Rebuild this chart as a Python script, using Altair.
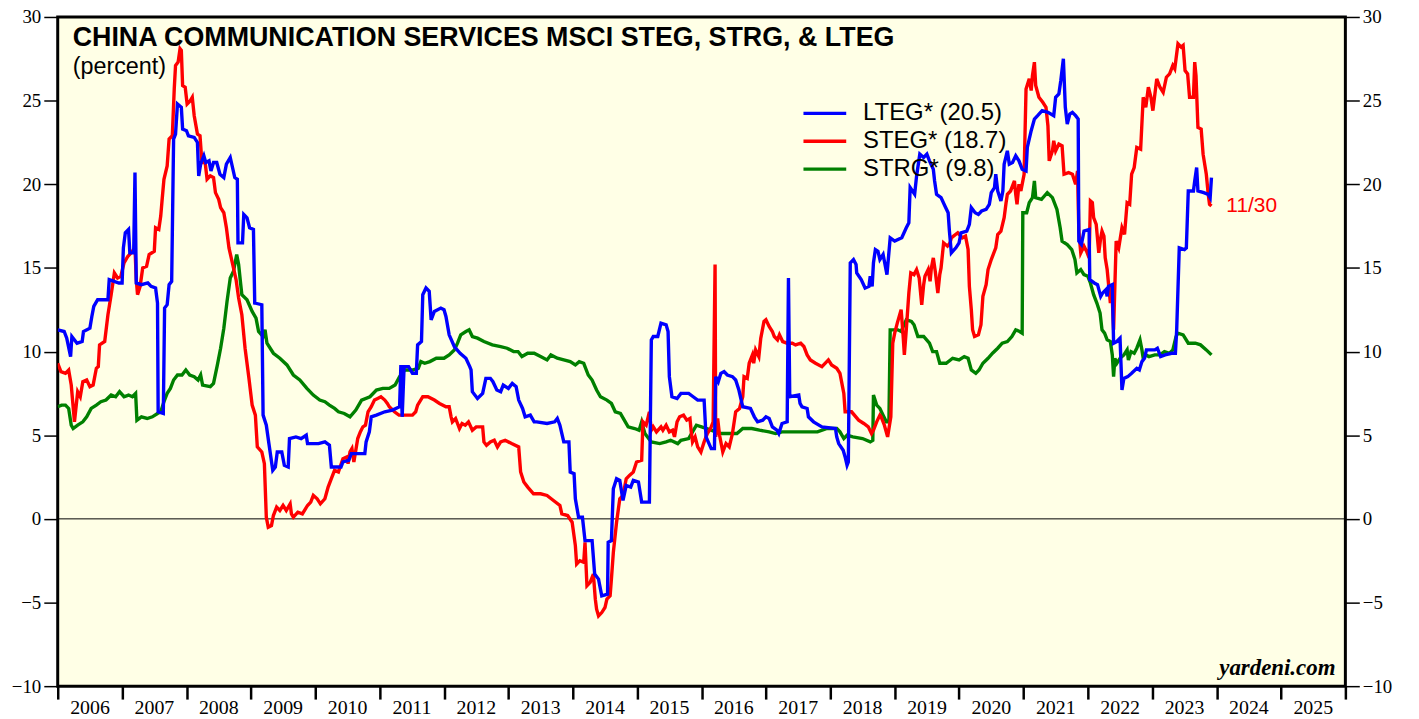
import altair as alt
import pandas as pd

# ---------------- data (fractional year, percent) ----------------
lteg_t = [2006.00, 2006.10, 2006.14, 2006.20, 2006.22, 2006.30, 2006.38, 2006.40, 2006.50, 2006.53,
          2006.56, 2006.62, 2006.78, 2006.80, 2006.95, 2007.00, 2007.02, 2007.05, 2007.10, 2007.12,
          2007.18, 2007.20, 2007.22, 2007.30, 2007.40, 2007.45, 2007.52, 2007.55, 2007.56, 2007.64,
          2007.66, 2007.70, 2007.73, 2007.77, 2007.80, 2007.83, 2007.86, 2007.92, 2007.94, 2008.00,
          2008.03, 2008.12, 2008.17, 2008.19, 2008.22, 2008.27, 2008.30, 2008.35, 2008.38, 2008.42,
          2008.47, 2008.52, 2008.58, 2008.62, 2008.68, 2008.75, 2008.79, 2008.80, 2008.87, 2008.89,
          2008.94, 2008.98, 2009.04, 2009.06, 2009.17, 2009.19, 2009.24, 2009.28, 2009.34, 2009.38,
          2009.41, 2009.48, 2009.52, 2009.58, 2009.60, 2009.70, 2009.78, 2009.86, 2009.88, 2010.05,
          2010.15, 2010.22, 2010.25, 2010.40, 2010.43, 2010.52, 2010.56, 2010.77, 2010.79, 2010.84,
          2010.87, 2010.95, 2011.08, 2011.20, 2011.31, 2011.33, 2011.35, 2011.38, 2011.45, 2011.51,
          2011.57, 2011.59, 2011.65, 2011.67, 2011.72, 2011.77, 2011.80, 2011.85, 2011.95, 2012.00,
          2012.03, 2012.08, 2012.16, 2012.25, 2012.34, 2012.40, 2012.42, 2012.44, 2012.52, 2012.60,
          2012.65, 2012.72, 2012.76, 2012.82, 2012.88, 2012.92, 2013.00, 2013.06, 2013.12, 2013.16,
          2013.22, 2013.26, 2013.34, 2013.40, 2013.44, 2013.60, 2013.72, 2013.76, 2013.80, 2013.86,
          2013.94, 2013.96, 2014.02, 2014.04, 2014.09, 2014.15, 2014.19, 2014.30, 2014.34, 2014.40,
          2014.45, 2014.54, 2014.55, 2014.60, 2014.63, 2014.68, 2014.73, 2014.78, 2014.83, 2014.90,
          2014.94, 2015.02, 2015.07, 2015.19, 2015.22, 2015.25, 2015.32, 2015.37, 2015.45, 2015.48,
          2015.50, 2015.54, 2015.62, 2015.68, 2015.80, 2015.87, 2015.94, 2016.04, 2016.07, 2016.15,
          2016.20, 2016.22, 2016.26, 2016.30, 2016.35, 2016.40, 2016.48, 2016.53, 2016.58, 2016.64,
          2016.76, 2016.82, 2016.87, 2016.95, 2017.00, 2017.05, 2017.10, 2017.17, 2017.20, 2017.25,
          2017.33, 2017.35, 2017.37, 2017.51, 2017.53, 2017.56, 2017.64, 2017.66, 2017.74, 2017.87,
          2018.08, 2018.10, 2018.13, 2018.20, 2018.23, 2018.26, 2018.28, 2018.31, 2018.36, 2018.40,
          2018.41, 2018.48, 2018.54, 2018.60, 2018.62, 2018.65, 2018.67, 2018.70, 2018.74, 2018.77,
          2018.82, 2018.88, 2018.93, 2019.00, 2019.11, 2019.18, 2019.22, 2019.24, 2019.31, 2019.34,
          2019.39, 2019.45, 2019.50, 2019.54, 2019.60, 2019.62, 2019.65, 2019.72, 2019.78, 2019.83,
          2019.85, 2019.88, 2019.95, 2020.00, 2020.03, 2020.12, 2020.16, 2020.19, 2020.25, 2020.30,
          2020.35, 2020.42, 2020.47, 2020.50, 2020.55, 2020.57, 2020.60, 2020.65, 2020.68, 2020.70,
          2020.75, 2020.78, 2020.83, 2020.88, 2020.93, 2020.98, 2021.04, 2021.06, 2021.12, 2021.17,
          2021.22, 2021.29, 2021.38, 2021.47, 2021.50, 2021.55, 2021.58, 2021.62, 2021.65, 2021.68,
          2021.72, 2021.76, 2021.81, 2021.85, 2021.86, 2021.90, 2021.94, 2022.02, 2022.03, 2022.10,
          2022.15, 2022.20, 2022.23, 2022.28, 2022.30, 2022.32, 2022.38, 2022.40, 2022.45, 2022.50,
          2022.53, 2022.56, 2022.62, 2022.68, 2022.76, 2022.80, 2022.84, 2022.88, 2022.91, 2023.04,
          2023.08, 2023.13, 2023.20, 2023.30, 2023.36, 2023.38, 2023.42, 2023.50, 2023.53, 2023.56,
          2023.64, 2023.66, 2023.69, 2023.71, 2023.80, 2023.87, 2023.90, 2023.92]
lteg_v = [11.3, 11.2, 10.8, 9.7, 10.9, 10.5, 10.6, 11.2, 11.4, 12.1,
          12.7, 13.1, 13.1, 14.3, 14.1, 14.1, 16.2, 17.1, 17.3, 15.9,
          15.9, 20.7, 14.1, 14.0, 14.1, 13.9, 13.8, 12.9, 6.4, 6.3,
          12.6, 12.8, 14.0, 14.2, 22.7, 23.0, 24.8, 24.6, 23.3, 23.2,
          22.9, 22.8, 22.5, 20.5, 21.2, 21.7, 21.3, 21.4, 20.8, 21.3,
          21.3, 20.6, 20.4, 21.2, 21.6, 20.4, 20.3, 16.5, 16.5, 18.2,
          18.0, 17.4, 17.3, 12.9, 12.8, 6.2, 5.6, 4.5, 2.9, 3.1,
          4.0, 4.0, 3.2, 3.1, 4.8, 4.9, 4.8, 5.0, 4.5, 4.5,
          4.6, 4.4, 3.1, 3.1, 3.4, 3.5, 3.9, 3.9, 4.6, 5.2,
          6.1, 6.2, 6.4, 6.5, 6.7, 9.2, 6.1, 9.1, 9.1, 8.7,
          8.7, 10.4, 10.6, 13.4, 13.8, 13.6, 11.9, 12.4, 12.6, 12.5,
          12.1, 11.0, 10.3, 9.9, 9.6, 9.1, 8.9, 7.6, 7.2, 7.5,
          8.4, 8.4, 8.2, 7.7, 7.6, 8.0, 7.8, 8.1, 7.9, 7.1,
          6.6, 6.1, 6.2, 5.8, 5.8, 5.7, 5.8, 6.0, 5.6, 4.6,
          4.6, 2.8, 2.7, 1.2, 0.1, 0.1, -1.3, -1.3, -3.3, -3.6,
          -4.6, -4.5, -1.4, -1.3, 1.8, 2.4, 2.3, 1.1, 2.0, 1.9,
          2.3, 2.2, 1.0, 1.0, 10.7, 10.9, 10.9, 11.7, 11.6, 11.2,
          8.5, 7.3, 7.2, 7.5, 7.5, 7.3, 7.1, 7.1, 4.9, 4.2,
          4.2, 8.5, 8.2, 8.7, 8.8, 8.6, 8.5, 8.3, 7.7, 6.7,
          6.6, 6.1, 5.8, 5.9, 6.1, 6.0, 5.5, 5.3, 5.1, 5.7,
          5.8, 14.4, 7.3, 7.4, 6.9, 6.7, 6.6, 6.1, 5.8, 5.5,
          5.4, 4.9, 4.5, 4.1, 3.7, 3.2, 3.4, 15.3, 15.5, 15.2,
          14.7, 14.3, 13.8, 13.9, 14.5, 13.9, 15.3, 16.1, 16.0, 15.5,
          15.8, 14.6, 16.8, 16.6, 16.8, 17.4, 17.7, 19.8, 19.4, 20.5,
          21.8, 21.6, 21.8, 21.4, 20.9, 20.2, 19.4, 19.2, 18.7, 18.3,
          17.2, 15.9, 16.2, 16.5, 17.1, 17.2, 17.6, 18.6, 18.3, 18.2,
          18.4, 18.5, 18.8, 19.5, 19.8, 20.6, 19.6, 19.0, 19.6, 21.2,
          22.0, 21.2, 21.3, 21.7, 21.4, 20.9, 20.8, 22.2, 23.2, 23.9,
          24.1, 24.4, 24.3, 24.1, 25.2, 25.4, 26.2, 27.5, 24.6, 23.6,
          24.2, 24.3, 24.1, 23.9, 16.6, 16.4, 17.2, 17.3, 14.3, 14.1,
          14.0, 13.3, 13.5, 13.7, 13.3, 13.9, 14.0, 10.5, 10.6, 10.8,
          7.7, 8.4, 8.5, 8.7, 9.0, 8.9, 9.4, 9.6, 10.1, 10.1,
          10.2, 9.7, 9.8, 9.9, 9.9, 11.3, 16.2, 16.1, 16.2, 19.6,
          19.6, 20.2, 21.0, 19.6, 19.5, 19.4, 19.2, 20.4]

steg_t = [2006.00, 2006.05, 2006.12, 2006.17, 2006.21, 2006.26, 2006.31, 2006.35, 2006.39, 2006.45,
          2006.50, 2006.55, 2006.60, 2006.63, 2006.65, 2006.73, 2006.78, 2006.83, 2006.88, 2006.93,
          2006.98, 2007.03, 2007.09, 2007.14, 2007.20, 2007.22, 2007.24, 2007.28, 2007.32, 2007.38,
          2007.42, 2007.50, 2007.52, 2007.57, 2007.60, 2007.62, 2007.65, 2007.70, 2007.73, 2007.78,
          2007.81, 2007.83, 2007.87, 2007.90, 2007.92, 2007.94, 2007.98, 2008.01, 2008.06, 2008.09,
          2008.12, 2008.17, 2008.21, 2008.24, 2008.29, 2008.32, 2008.37, 2008.42, 2008.45, 2008.50,
          2008.53, 2008.58, 2008.62, 2008.66, 2008.73, 2008.77, 2008.81, 2008.86, 2008.91, 2008.97,
          2009.02, 2009.07, 2009.10, 2009.17, 2009.21, 2009.24, 2009.27, 2009.32, 2009.35, 2009.40,
          2009.45, 2009.50, 2009.55, 2009.61, 2009.63, 2009.66, 2009.73, 2009.80, 2009.88, 2009.93,
          2009.97, 2010.03, 2010.08, 2010.15, 2010.20, 2010.25, 2010.30, 2010.36, 2010.43, 2010.49,
          2010.51, 2010.54, 2010.57, 2010.60, 2010.66, 2010.70, 2010.74, 2010.78, 2010.82, 2010.87,
          2010.92, 2010.97, 2011.02, 2011.08, 2011.12, 2011.15, 2011.23, 2011.30, 2011.45, 2011.51,
          2011.56, 2011.59, 2011.67, 2011.75, 2011.85, 2011.93, 2012.03, 2012.08, 2012.11, 2012.13,
          2012.18, 2012.24, 2012.28, 2012.33, 2012.38, 2012.44, 2012.50, 2012.60, 2012.62, 2012.66,
          2012.72, 2012.78, 2012.83, 2012.88, 2012.95, 2013.05, 2013.16, 2013.19, 2013.24, 2013.30,
          2013.39, 2013.50, 2013.60, 2013.70, 2013.80, 2013.83, 2013.92, 2013.99, 2014.04, 2014.06,
          2014.11, 2014.17, 2014.19, 2014.22, 2014.27, 2014.32, 2014.35, 2014.37, 2014.40, 2014.45,
          2014.50, 2014.53, 2014.58, 2014.60, 2014.63, 2014.68, 2014.73, 2014.78, 2014.83, 2014.88,
          2014.94, 2014.99, 2015.07, 2015.09, 2015.14, 2015.19, 2015.22, 2015.25, 2015.30, 2015.37,
          2015.40, 2015.45, 2015.50, 2015.55, 2015.58, 2015.62, 2015.66, 2015.72, 2015.77, 2015.82,
          2015.84, 2015.86, 2015.90, 2015.94, 2015.99, 2016.04, 2016.09, 2016.14, 2016.18, 2016.21,
          2016.22, 2016.25, 2016.28, 2016.33, 2016.38, 2016.43, 2016.48, 2016.53, 2016.59, 2016.64,
          2016.66, 2016.71, 2016.74, 2016.79, 2016.81, 2016.84, 2016.89, 2016.92, 2016.97, 2017.00,
          2017.05, 2017.10, 2017.13, 2017.18, 2017.21, 2017.26, 2017.33, 2017.41, 2017.46, 2017.54,
          2017.59, 2017.64, 2017.69, 2017.77, 2017.87, 2017.97, 2018.02, 2018.10, 2018.15, 2018.21,
          2018.23, 2018.33, 2018.44, 2018.52, 2018.59, 2018.64, 2018.67, 2018.72, 2018.77, 2018.79,
          2018.84, 2018.89, 2018.94, 2018.97, 2019.00, 2019.04, 2019.10, 2019.13, 2019.15, 2019.18,
          2019.22, 2019.25, 2019.30, 2019.34, 2019.38, 2019.42, 2019.45, 2019.47, 2019.52, 2019.55,
          2019.57, 2019.60, 2019.63, 2019.67, 2019.70, 2019.72, 2019.76, 2019.82, 2019.86, 2019.88,
          2019.98, 2020.05, 2020.10, 2020.14, 2020.16, 2020.19, 2020.21, 2020.24, 2020.30, 2020.34,
          2020.37, 2020.42, 2020.45, 2020.50, 2020.57, 2020.60, 2020.65, 2020.70, 2020.73, 2020.75,
          2020.80, 2020.86, 2020.88, 2020.90, 2020.93, 2020.96, 2021.01, 2021.04, 2021.09, 2021.12,
          2021.14, 2021.17, 2021.19, 2021.24, 2021.30, 2021.35, 2021.38, 2021.40, 2021.45, 2021.47,
          2021.50, 2021.55, 2021.60, 2021.63, 2021.70, 2021.76, 2021.81, 2021.84, 2021.86, 2021.89,
          2021.94, 2021.98, 2022.02, 2022.04, 2022.07, 2022.09, 2022.13, 2022.17, 2022.20, 2022.22,
          2022.25, 2022.27, 2022.30, 2022.32, 2022.35, 2022.37, 2022.40, 2022.44, 2022.48, 2022.53,
          2022.57, 2022.61, 2022.65, 2022.68, 2022.72, 2022.76, 2022.82, 2022.86, 2022.90, 2022.94,
          2022.98, 2023.01, 2023.07, 2023.12, 2023.17, 2023.22, 2023.27, 2023.32, 2023.35, 2023.37,
          2023.40, 2023.45, 2023.48, 2023.51, 2023.55, 2023.58, 2023.64, 2023.66, 2023.68, 2023.71,
          2023.76, 2023.79, 2023.84, 2023.87, 2023.89, 2023.92]
steg_v = [9.3, 8.8, 8.7, 8.9, 8.0, 5.8, 7.6, 7.3, 8.2, 8.3,
          7.9, 8.0, 9.0, 9.1, 10.4, 10.6, 12.2, 13.4, 14.7, 14.4,
          14.5, 15.3, 15.7, 15.9, 16.2, 14.3, 13.4, 13.9, 15.0, 15.1,
          15.8, 16.0, 17.4, 17.3, 18.1, 19.0, 20.3, 21.1, 22.7, 22.9,
          25.7, 27.1, 27.3, 28.1, 28.0, 25.9, 25.8, 24.8, 25.0, 25.2,
          24.1, 23.0, 22.9, 21.3, 21.3, 20.3, 20.5, 20.4, 19.5, 19.1,
          18.6, 18.3, 17.4, 16.2, 15.0, 14.3, 13.2, 12.2, 10.2, 8.4,
          6.8, 6.2, 4.3, 4.0, 3.3, 0.1, -0.5, -0.4, 0.2, 0.7,
          0.5, 0.8, 0.5, 0.9, 0.3, 0.1, 0.4, 0.3, 0.8, 1.0,
          1.4, 1.2, 0.9, 1.2, 1.9, 2.4, 2.9, 2.8, 3.6, 3.7,
          3.3, 4.0, 4.2, 3.4, 4.8, 5.2, 5.5, 5.6, 6.4, 6.7,
          7.1, 7.2, 7.3, 7.1, 6.9, 6.7, 6.4, 6.2, 6.2, 6.2,
          6.4, 6.8, 7.3, 7.3, 7.1, 6.9, 6.7, 6.7, 6.1, 5.8,
          6.0, 5.4, 5.7, 5.6, 5.8, 5.3, 5.5, 5.5, 4.6, 4.4,
          4.6, 4.7, 4.3, 4.6, 4.7, 4.5, 4.3, 2.8, 2.2, 1.9,
          1.5, 1.5, 1.4, 1.1, 0.8, 0.3, 0.2, -0.2, -1.6, -2.7,
          -2.5, -2.6, -1.4, -4.0, -3.8, -3.3, -4.8, -5.4, -5.8, -5.6,
          -5.3, -4.8, -4.6, -3.6, -2.0, -0.2, 1.2, 1.4, 2.4, 2.6,
          2.8, 3.4, 3.5, 5.8, 5.6, 6.4, 5.3, 5.5, 5.2, 5.5,
          5.3, 5.6, 5.2, 5.3, 4.9, 5.8, 6.1, 6.2, 5.9, 6.0,
          5.2, 4.6, 4.9, 4.3, 4.0, 4.6, 5.1, 5.4, 5.8, 15.2,
          4.9, 6.0, 5.0, 4.0, 4.5, 4.3, 5.1, 6.4, 6.6, 7.3,
          8.5, 8.4, 9.3, 9.8, 9.3, 10.1, 9.7, 10.8, 11.8, 11.9,
          11.5, 11.2, 10.9, 10.7, 11.0, 10.6, 10.5, 10.5, 10.4, 10.5,
          10.3, 9.8, 9.5, 9.3, 9.1, 9.5, 9.2, 9.0, 8.7, 7.5,
          6.4, 6.4, 5.9, 5.7, 5.5, 5.1, 5.3, 5.8, 6.2, 6.1,
          5.6, 4.9, 6.1, 10.5, 11.1, 11.7, 12.5, 11.0, 9.8, 11.3,
          13.5, 14.7, 14.6, 14.9, 14.4, 12.8, 14.0, 14.5, 14.9, 14.2,
          15.0, 15.6, 14.8, 13.5, 14.6, 15.0, 16.5, 16.3, 16.5, 16.8,
          17.1, 16.8, 16.9, 16.1, 13.9, 12.5, 11.3, 10.9, 11.0, 11.6,
          13.3, 14.0, 14.9, 15.5, 16.2, 17.0, 17.2, 18.0, 18.9, 19.4,
          19.6, 20.2, 19.4, 18.8, 20.0, 19.6, 20.6, 25.7, 26.3, 25.6,
          26.5, 27.3, 25.9, 25.2, 24.9, 24.6, 23.5, 21.4, 22.0, 22.6,
          22.0, 22.4, 22.3, 20.6, 20.7, 20.6, 20.0, 20.8, 17.2, 15.9,
          16.3, 16.0, 15.6, 19.0, 18.9, 18.0, 17.6, 15.9, 16.8, 17.2,
          16.9, 15.6, 14.9, 14.1, 12.9, 14.0, 11.3, 16.6, 16.2, 17.4,
          17.0, 18.9, 18.8, 20.6, 21.0, 22.2, 22.1, 25.2, 24.6, 25.8,
          25.2, 24.4, 26.3, 25.8, 25.5, 26.4, 26.6, 27.1, 26.9, 27.5,
          28.4, 28.2, 28.3, 26.8, 26.6, 25.2, 25.2, 27.3, 26.5, 23.4,
          23.3, 21.8, 20.6, 19.4, 18.8, 18.7]

strg_t = [2006.00, 2006.06, 2006.12, 2006.17, 2006.21, 2006.24, 2006.31, 2006.39, 2006.45, 2006.52,
          2006.60, 2006.67, 2006.75, 2006.83, 2006.90, 2006.96, 2007.03, 2007.10, 2007.16, 2007.21,
          2007.23, 2007.30, 2007.39, 2007.47, 2007.55, 2007.60, 2007.65, 2007.70, 2007.75, 2007.80,
          2007.86, 2007.93, 2007.99, 2008.05, 2008.12, 2008.18, 2008.22, 2008.25, 2008.37, 2008.42,
          2008.48, 2008.53, 2008.58, 2008.63, 2008.68, 2008.73, 2008.78, 2008.81, 2008.84, 2008.86,
          2008.94, 2009.02, 2009.08, 2009.12, 2009.19, 2009.22, 2009.25, 2009.35, 2009.45, 2009.56,
          2009.66, 2009.76, 2009.87, 2009.97, 2010.07, 2010.15, 2010.22, 2010.30, 2010.36, 2010.45,
          2010.54, 2010.63, 2010.72, 2010.85, 2010.95, 2011.05, 2011.15, 2011.24, 2011.31, 2011.39,
          2011.52, 2011.60, 2011.64, 2011.70, 2011.78, 2011.88, 2012.00, 2012.08, 2012.16, 2012.21,
          2012.26, 2012.34, 2012.39, 2012.44, 2012.52, 2012.62, 2012.75, 2012.88, 2012.98, 2013.08,
          2013.15, 2013.21, 2013.30, 2013.40, 2013.50, 2013.60, 2013.66, 2013.76, 2013.86, 2013.96,
          2014.04, 2014.10, 2014.17, 2014.24, 2014.30, 2014.37, 2014.43, 2014.53, 2014.60, 2014.66,
          2014.74, 2014.80, 2014.86, 2014.96, 2015.03, 2015.07, 2015.12, 2015.22, 2015.35, 2015.45,
          2015.52, 2015.63, 2015.68, 2015.80, 2015.86, 2015.92, 2016.00, 2016.08, 2016.15, 2016.28,
          2016.40, 2016.55, 2016.64, 2016.78, 2016.90, 2017.05, 2017.15, 2017.25, 2017.45, 2017.65,
          2017.80, 2017.95, 2018.10, 2018.15, 2018.21, 2018.26, 2018.35, 2018.50, 2018.62, 2018.66,
          2018.67, 2018.72, 2018.77, 2018.82, 2018.87, 2018.91, 2018.93, 2019.05, 2019.10, 2019.18,
          2019.26, 2019.30, 2019.36, 2019.45, 2019.54, 2019.59, 2019.65, 2019.70, 2019.80, 2019.90,
          2020.00, 2020.08, 2020.14, 2020.19, 2020.26, 2020.31, 2020.37, 2020.45, 2020.52, 2020.60,
          2020.67, 2020.75, 2020.82, 2020.88, 2020.94, 2020.98, 2020.99, 2021.05, 2021.09, 2021.14,
          2021.17, 2021.19, 2021.28, 2021.37, 2021.45, 2021.52, 2021.57, 2021.60, 2021.68, 2021.75,
          2021.80, 2021.83, 2021.89, 2021.94, 2022.00, 2022.04, 2022.09, 2022.14, 2022.19, 2022.22,
          2022.26, 2022.30, 2022.35, 2022.38, 2022.40, 2022.42, 2022.45, 2022.50, 2022.56, 2022.61,
          2022.63, 2022.67, 2022.72, 2022.76, 2022.81, 2022.84, 2022.86, 2022.90, 2022.95, 2023.04,
          2023.12, 2023.19, 2023.27, 2023.32, 2023.37, 2023.40, 2023.48, 2023.56, 2023.62, 2023.67,
          2023.75, 2023.84, 2023.92]
strg_v = [6.7, 6.8, 6.8, 6.6, 5.6, 5.4, 5.6, 5.8, 6.1, 6.6,
          6.8, 7.0, 7.1, 7.4, 7.3, 7.6, 7.3, 7.4, 7.3, 7.5,
          5.9, 6.1, 6.0, 6.1, 6.3, 6.4, 7.0, 7.5, 7.8, 8.3,
          8.6, 8.6, 8.9, 8.6, 8.5, 8.3, 8.6, 8.0, 7.9, 8.1,
          9.2, 10.2, 11.4, 13.0, 14.4, 14.8, 15.8, 15.2, 14.1, 13.4,
          13.1, 12.4, 12.0, 11.2, 10.9, 11.3, 10.5, 9.9, 9.6, 9.2,
          8.6, 8.3, 7.8, 7.4, 7.1, 7.0, 6.8, 6.6, 6.4, 6.3,
          6.1, 6.5, 7.1, 7.3, 7.7, 7.8, 7.8, 8.0, 8.5, 8.9,
          8.9, 9.0, 9.4, 9.3, 9.4, 9.6, 9.6, 9.8, 10.1, 10.5,
          11.0, 11.2, 11.3, 10.9, 10.8, 10.6, 10.4, 10.3, 10.2, 10.0,
          10.0, 9.7, 9.9, 9.9, 9.7, 9.5, 9.8, 9.6, 9.5, 9.4,
          9.2, 9.4, 9.3, 8.6, 8.3, 7.7, 7.3, 7.1, 6.9, 6.4,
          6.3, 5.9, 5.5, 5.4, 5.3, 5.8, 5.1, 4.6, 4.5, 4.6,
          4.7, 4.5, 4.7, 4.8, 5.2, 5.6, 5.5, 5.4, 5.3, 5.1,
          5.1, 5.1, 5.4, 5.4, 5.3, 5.2, 5.1, 5.2, 5.2, 5.2,
          5.2, 5.4, 5.4, 5.2, 4.8, 5.0, 4.9, 4.8, 4.6, 4.7,
          7.4, 6.8, 6.6, 6.2, 5.8, 5.8, 11.3, 11.3, 11.2, 11.9,
          11.8, 11.6, 10.9, 10.9, 10.5, 10.0, 10.0, 9.3, 9.3, 9.6,
          9.5, 9.7, 9.6, 8.9, 8.7, 8.9, 9.3, 9.6, 9.9, 10.2,
          10.5, 10.6, 10.9, 11.3, 11.2, 11.1, 18.3, 18.3, 18.9, 19.2,
          20.2, 19.2, 19.1, 19.5, 19.2, 18.5, 17.4, 16.6, 16.4, 16.1,
          15.5, 14.7, 14.9, 14.6, 14.5, 14.1, 13.4, 12.9, 12.3, 11.3,
          11.1, 10.7, 10.6, 9.8, 8.5, 9.6, 9.3, 9.6, 9.8, 10.1,
          9.5, 10.0, 9.9, 10.2, 10.7, 10.1, 9.6, 9.8, 9.7, 9.8,
          9.8, 10.0, 9.9, 10.1, 10.9, 11.1, 11.0, 10.5, 10.5, 10.5,
          10.4, 10.1, 9.8]

series_keys = ["STRG", "STEG", "LTEG"]
series_labels = {"LTEG": "LTEG* (20.5)", "STEG": "STEG* (18.7)", "STRG": "STRG* (9.8)"}
legend_order = ["LTEG* (20.5)", "STEG* (18.7)", "STRG* (9.8)"]
legend_colors = ["#0000FF", "#FF0000", "#008000"]
year_ticks = list(range(2006, 2027))
y_ticks = [-10, -5, 0, 5, 10, 15, 20, 25, 30]
end_label = "11/30"
title_text = "CHINA COMMUNICATION SERVICES MSCI STEG, STRG, & LTEG"
subtitle_text = "(percent)"
source_text = "yardeni.com"

rows = []
for key, ts, vs in [("STRG", strg_t, strg_v), ("STEG", steg_t, steg_v), ("LTEG", lteg_t, lteg_v)]:
    for t, v in zip(ts, vs):
        rows.append({"series": key, "label": series_labels[key], "t": t, "value": v})
df = pd.DataFrame(rows)

SERIF = "Liberation Serif"
SANS = "Liberation Sans"

xscale = alt.Scale(domain=[2006, 2026], nice=False, zero=False)
yscale = alt.Scale(domain=[-10, 30], nice=False, zero=False)

x_axis = alt.Axis(values=year_ticks, labelExpr="datum.value < 2026 ? datum.value : ''",
                  labelOffset=32, tickSize=13, tickWidth=2.5, tickColor="black",
                  labelPadding=-1, labelFont=SERIF, labelFontSize=20, labelColor="black",
                  domain=False, grid=False, title=None, labelFlush=False, labelOverlap=False,
                  labelBound=False)
y_left = alt.Axis(values=y_ticks, orient="left", tickSize=14, tickWidth=1.5, tickColor="black",
                  labelPadding=3, labelFont=SERIF, labelFontSize=19, labelColor="black",
                  domain=False, grid=False, title=None, labelFlush=False, labelOverlap=False)
y_right = alt.Axis(values=y_ticks, orient="right", tickSize=14, tickWidth=1.5, tickColor="black",
                   labelPadding=3, labelFont=SERIF, labelFontSize=19, labelColor="black",
                   domain=False, grid=False, title=None, labelFlush=False, labelOverlap=False)

color = alt.Color("label:N", scale=alt.Scale(domain=legend_order, range=legend_colors),
                  legend=alt.Legend(orient="none", legendX=748, legendY=85, title=None,
                                    symbolType="stroke", symbolStrokeWidth=3.4, symbolSize=1849,
                                    labelFont=SANS, labelFontSize=24, labelColor="black",
                                    labelOffset=15, rowPadding=4, padding=0, clipHeight=24))

base = alt.Chart(df)
layers = []
for i, key in enumerate(series_keys):
    layers.append(
        base.transform_filter(alt.datum.series == key).mark_line(strokeWidth=3.4, clip=True).encode(
            x=alt.X("t:Q", scale=xscale, axis=x_axis),
            y=alt.Y("value:Q", scale=yscale, axis=y_left if i == 0 else None),
            color=color,
        )
    )

zero = alt.Chart(pd.DataFrame({"v": [0]})).mark_rule(color="black", strokeWidth=1).encode(
    y=alt.Y("v:Q", scale=yscale, axis=y_right)
)

last = pd.DataFrame({"t": [steg_t[-1]], "value": [steg_v[-1]], "txt": [end_label]})
end_txt = alt.Chart(last).mark_text(align="left", baseline="middle", dx=15, font=SANS,
                                     fontSize=21, color="#FF0000").encode(
    x=alt.X("t:Q", scale=xscale, axis=x_axis),
    y=alt.Y("value:Q", scale=yscale, axis=None),
    text="txt:N",
)

title = alt.Chart(pd.DataFrame({"s": [title_text]})).mark_text(
    align="left", baseline="alphabetic", font=SANS, fontSize=27, fontWeight="bold", color="black"
).encode(text="s:N", x=alt.value(15), y=alt.value(29))
subtitle = alt.Chart(pd.DataFrame({"s": [subtitle_text]})).mark_text(
    align="left", baseline="alphabetic", font=SANS, fontSize=23.5, color="black"
).encode(text="s:N", x=alt.value(15), y=alt.value(57))
source = alt.Chart(pd.DataFrame({"s": [source_text]})).mark_text(
    align="right", baseline="alphabetic", font=SERIF, fontSize=23, fontWeight="bold",
    fontStyle="italic", color="black"
).encode(text="s:N", x=alt.value(1285), y=alt.value(662))

chart = alt.layer(zero, *layers, end_txt, title, subtitle, source).resolve_axis(
    y="independent"
).properties(
    width=1295, height=673,
    autosize=alt.AutoSizeParams(type="none"),
    padding={"left": 50, "top": 7, "right": 66, "bottom": 31},
    background="white",
).configure_view(
    fill="#FFFFE6", stroke="black", strokeWidth=3
)

chart.save("out.html", embed_options={"renderer": "svg", "actions": False})
